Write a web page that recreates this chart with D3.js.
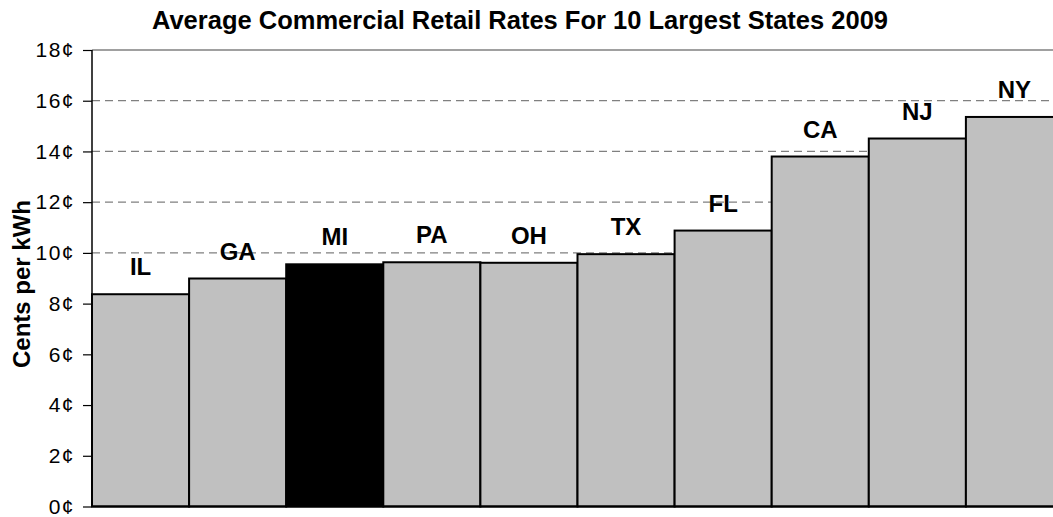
<!DOCTYPE html>
<html>
<head>
<meta charset="utf-8">
<script src="https://cdn.jsdelivr.net/npm/d3@7"></script>
<style>
  body { margin: 0; background: #fff; }
  svg { display: block; font-family: "Liberation Sans", Arial, sans-serif; }
</style>
</head>
<body>
<div id="chart"></div>
<script>
// data
var states = ["IL", "GA", "MI", "PA", "OH", "TX", "FL", "CA", "NJ", "NY"];
var rates = [8.37, 8.99, 9.55, 9.63, 9.61, 9.95, 10.88, 13.80, 14.51, 15.36];
var highlight = "MI";
var yTicks = [0, 2, 4, 6, 8, 10, 12, 14, 16, 18];
var title = "Average Commercial Retail Rates For 10 Largest States 2009";
var yLabel = "Cents per kWh";

var W = 1053, H = 517;
var margin = {top: 50, left: 92, bottom: 10};
var plotRight = 1063; // plot runs past the picture edge in the original

var svg = d3.select("#chart").append("svg")
	.attr("width", W)
	.attr("height", H);

var x = d3.scaleBand().domain(states).range([margin.left, plotRight]).padding(0);
var y = d3.scaleLinear().domain([0, 18]).range([506.5, margin.top]);

// grid lines
svg.append("g").selectAll("line")
	.data(yTicks.filter(function(d) { return d > 0; }))
	.enter().append("line")
		.attr("x1", margin.left).attr("x2", plotRight)
		.attr("y1", function(d) { return y(d); })
		.attr("y2", function(d) { return y(d); })
		.attr("stroke", "#808080")
		.attr("stroke-width", 1.3)
		.attr("stroke-dasharray", function(d) { return d == 18 ? null : "8,5"; });

// bars
svg.append("g").selectAll("rect")
	.data(states)
	.enter().append("rect")
		.attr("x", function(d) { return x(d); })
		.attr("y", function(d, i) { return y(rates[i]); })
		.attr("width", x.bandwidth())
		.attr("height", function(d, i) { return y(0) - y(rates[i]); })
		.attr("fill", function(d) { return d == highlight ? "#000" : "#c0c0c0"; })
		.attr("stroke", "#000")
		.attr("stroke-width", 2);

// bar labels
svg.append("g").selectAll("text")
	.data(states)
	.enter().append("text")
		.attr("x", function(d) { return x(d) + x.bandwidth() / 2; })
		.attr("y", function(d, i) { return y(rates[i]) - 19; })
		.attr("text-anchor", "middle")
		.attr("font-size", 24)
		.attr("font-weight", "bold")
		.text(function(d) { return d; });

// y axis
var yAxis = d3.axisLeft(y)
	.tickValues(yTicks)
	.tickSize(9)
	.tickPadding(8)
	.tickFormat(function(d) { return d + "\u00a2"; });

var ga = svg.append("g")
	.attr("transform", "translate(" + margin.left + ",0)")
	.call(yAxis);
ga.select(".domain").attr("stroke", "#000").attr("stroke-width", 1.5)
	.attr("d", "M0," + y(18) + "V" + y(0));
ga.selectAll(".tick line").attr("stroke", "#000").attr("stroke-width", 1.2);
ga.selectAll(".tick text")
	.attr("font-family", "Liberation Sans, Arial, sans-serif")
	.attr("font-size", 21)
	.attr("letter-spacing", 1.5)
	.attr("fill", "#000");

// x baseline
svg.append("line")
	.attr("x1", margin.left).attr("x2", plotRight)
	.attr("y1", y(0)).attr("y2", y(0))
	.attr("stroke", "#000").attr("stroke-width", 2);

// title
svg.append("text")
	.attr("x", 520)
	.attr("y", 29)
	.attr("text-anchor", "middle")
	.attr("font-size", 25.5)
	.attr("font-weight", "bold")
	.text(title);

// y label
svg.append("text")
	.attr("transform", "translate(30,284) rotate(-90)")
	.attr("text-anchor", "middle")
	.attr("font-size", 24)
	.attr("font-weight", "bold")
	.text(yLabel);
</script>
</body>
</html>
